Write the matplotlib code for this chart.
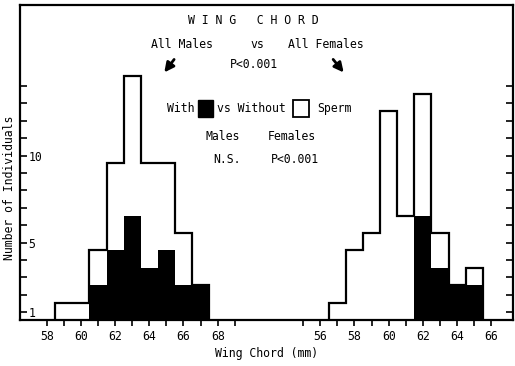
import numpy as np
import matplotlib.pyplot as plt
from matplotlib.patches import Rectangle

plt.rcParams['font.family'] = 'DejaVu Sans Mono'
plt.rcParams['font.size'] = 8

# bin edges (mm) and counts
male_edges = [58.5, 59.5, 60.5, 61.5, 62.5, 63.5, 64.5, 65.5, 66.5, 67.5]
male_all = [1, 1, 4, 9, 14, 9, 9, 5, 2]
male_sperm = [0, 0, 2, 4, 6, 3, 4, 2, 2]

female_edges = [56.5, 57.5, 58.5, 59.5, 60.5, 61.5, 62.5, 63.5, 64.5, 65.5]
female_all = [1, 4, 5, 12, 6, 13, 5, 2, 3]
female_sperm = [0, 0, 0, 0, 0, 6, 3, 2, 2]

male_ticks = np.arange(58, 70)
female_ticks = np.arange(55, 67)
shift = 18   # females drawn to the right of the males on the same axis

fig = plt.figure(figsize=(5.15, 3.66), dpi=100)
ax = fig.add_axes([20/515, 46/366, 493/515, 315.5/366])

# maschi
ax.stairs(male_sperm, male_edges, fill=True, color='k')
ax.stairs(male_all, male_edges, color='k', lw=1.6)
# femmine
fe = np.array(female_edges) + shift
ax.stairs(female_sperm, fe, fill=True, color='k')
ax.stairs(female_all, fe, color='k', lw=1.6)

ax.set_xlim(56.44, 85.27)
ax.set_ylim(0, 18.13)

xt = list(male_ticks) + list(female_ticks + shift)
xl = [str(t) if t % 2 == 0 else '' for t in male_ticks] + \
     [str(t) if t % 2 == 0 and t > 55 else '' for t in female_ticks]
ax.set_xticks(xt)
ax.set_xticklabels(xl)
ax.tick_params(axis='x', direction='out', length=4, width=1.2, pad=3, labelsize=8.3)

yt = np.arange(1, 15) - 0.55
ax.set_yticks(yt)
ax.set_yticklabels(['1' if k == 1 else '5' if k == 5 else '10' if k == 10 else '' for k in range(1, 15)])
ax.tick_params(axis='y', direction='in', length=5, width=1.2, pad=-6, right=True, labelsize=8.3)
plt.setp(ax.get_yticklabels(), ha='left')

for s in ax.spines.values():
    s.set_linewidth(1.6)

ax.set_xlabel("Wing Chord (mm)", labelpad=3, fontsize=8.3)
ax.set_ylabel("Number of Individuals", fontsize=8.3)
ax.yaxis.set_label_coords(-4/493, 0.42)

# testi
ax.text(70.1, 17.2, "W I N G   C H O R D", ha='center', va='center', fontsize=8.3)
ax.text(65.92, 15.86, "All Males", ha='center', va='center', fontsize=8.3)
ax.text(70.3, 15.86, "vs", ha='center', va='center', fontsize=8.3)
ax.text(74.33, 15.86, "All Females", ha='center', va='center', fontsize=8.3)
ax.text(70.1, 14.66, "P<0.001", ha='center', va='center', fontsize=8.3)

ax.annotate('', xy=(64.78, 14.1), xytext=(65.55, 15.1),
            arrowprops=dict(arrowstyle='-|>,head_width=0.35,head_length=0.7', color='k', lw=2))
ax.annotate('', xy=(75.47, 14.1), xytext=(74.65, 15.1),
            arrowprops=dict(arrowstyle='-|>,head_width=0.35,head_length=0.7', color='k', lw=2))

ax.text(65.04, 12.18, "With", ha='left', va='center', fontsize=8.3)
ax.add_patch(Rectangle((66.85, 11.67), 0.88, 0.97, facecolor='k', edgecolor='k'))
ax.text(67.95, 12.18, "vs Without", ha='left', va='center', fontsize=8.3)
ax.add_patch(Rectangle((72.4, 11.67), 0.95, 0.97, facecolor='w', edgecolor='k', lw=1.3))
ax.text(73.8, 12.18, "Sperm", ha='left', va='center', fontsize=8.3)

ax.text(68.32, 10.57, "Males", ha='center', va='center', fontsize=8.3)
ax.text(72.35, 10.57, "Females", ha='center', va='center', fontsize=8.3)
ax.text(68.55, 9.25, "N.S.", ha='center', va='center', fontsize=8.3)
ax.text(72.53, 9.25, "P<0.001", ha='center', va='center', fontsize=8.3)

plt.savefig('out.png', dpi=100)
